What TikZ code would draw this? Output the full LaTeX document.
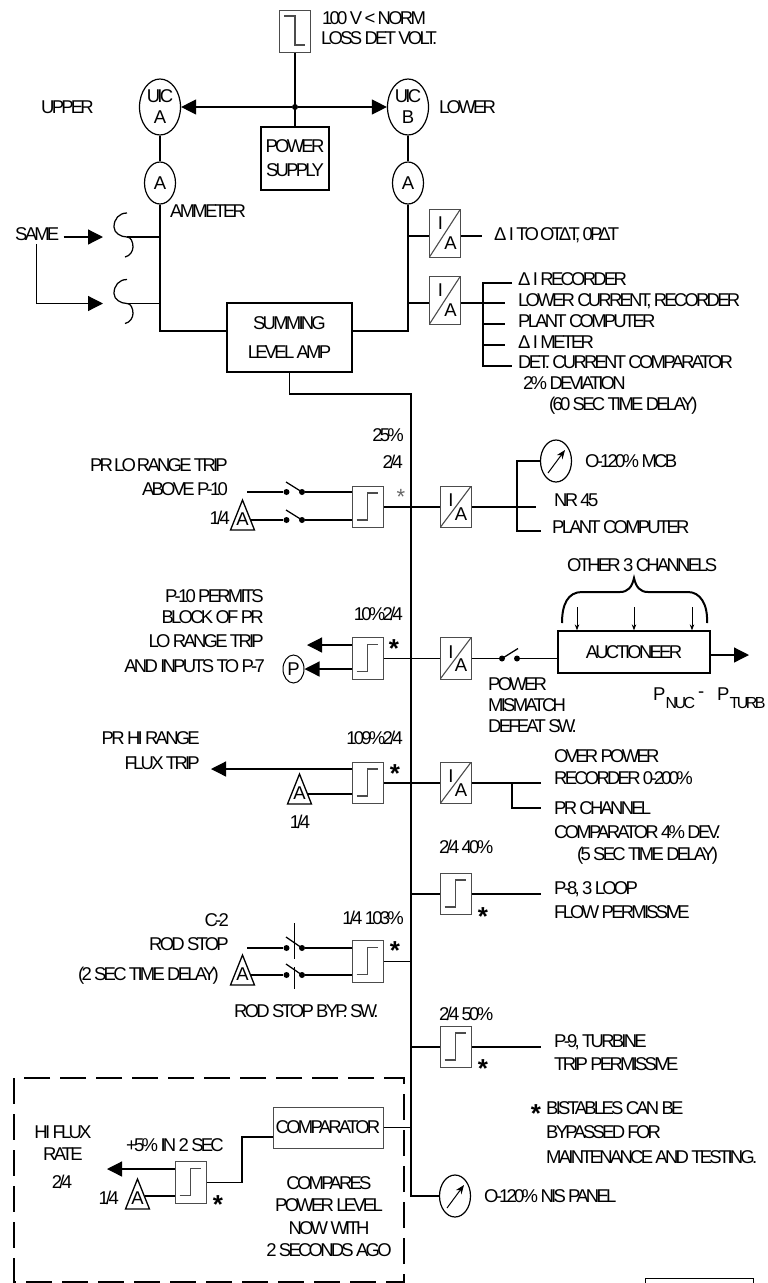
\documentclass[tikz,border=0pt]{standalone}
\usepackage{fontspec}
\setmainfont[LetterSpace=-15]{Liberation Sans}
\usetikzlibrary{arrows.meta,calc,shapes.geometric}

\newcommand{\subtext}[1]{\raisebox{-7.5pt}{\addfontfeature{LetterSpace=-16}\fontsize{16}{16}\selectfont #1}}

\tikzset{
    wire/.style={line width=1.25pt},
    bigarrow/.style={wire, -{Triangle[length=15pt,width=15pt]}},
    smallarrow/.style={line width=1pt, -{Stealth[length=6pt,width=4.5pt]}},
    lbl/.style={inner sep=0, anchor=west, text height=13.3pt, text depth=0pt},
    lblr/.style={lbl, anchor=east},
    lblc/.style={lbl, anchor=center},
    starmark/.style={inner sep=0, font=\fontsize{26}{26}\selectfont\bfseries},
    blockbox/.style={draw, line width=1.3pt, inner sep=0, align=center},
    thinbox/.style={draw=black!70, line width=1pt, inner sep=0},
    stepbox/.style={thinbox, minimum width=31pt, minimum height=41.5pt,
        path picture={\draw[line width=1.1pt] ($(path picture bounding box.center)+(-11,13)$)
            -- ++(11,0) -- ++(0,-27) -- ++(10,0);}},
    stepinv/.style={thinbox, minimum width=31pt, minimum height=41.5pt,
        path picture={\draw[line width=1.1pt] ($(path picture bounding box.center)+(-11,-15)$)
            -- ++(11,0) -- ++(0,29) -- ++(10,0);}},
    iabox/.style={thinbox, minimum width=31pt, minimum height=41.5pt,
        path picture={\draw[line width=1.1pt] (path picture bounding box.south west)
                -- (path picture bounding box.north east);
            \node[inner sep=0] at ($(path picture bounding box.north west)+(11,14)$) {I};
            \node[inner sep=0] at ($(path picture bounding box.south east)+(-10,-14)$) {A};}},
    dial/.style={draw, ellipse, line width=1.2pt, inner sep=0, minimum width=31pt, minimum height=42pt},
    meter/.style={dial, path picture={\draw[smallarrow, -{Stealth[length=9pt,width=7pt]}]
        ($(path picture bounding box.center)+(-8,12)$) -- ++(17,-23);}},
    contact/.style={circle, fill, inner sep=0, minimum size=6pt},
    amptri/.pic={\draw[line width=1.3pt] (0,-20) -- (12,10) -- (-12,10) -- cycle;
        \node[inner sep=0] (-letter) at (0,-1) {A};},
    fuse/.pic={\draw[wire] (0,-24) .. controls (-8,-24) and (-13,-18) .. (-13,-10)
        .. controls (-13,-4) and (-6,0) .. (0,0) .. controls (4,0) and (6,5) .. (6,10)
        .. controls (6,14) and (3,19) .. (-2,20);}
}

\begin{document}
\begin{tikzpicture}[x=1pt, y=-1pt, font=\fontsize{18.5}{21}\selectfont]
    \useasboundingbox (0,0) rectangle (768,1283);

    % supply and the two UIC
    \node[stepinv, minimum height=42pt] (lossDet) at (295,31) {};
    \node[lbl] (lossA) at (322,18) {100 V < NORM};
    \node[lbl] (lossB) at (321,38) {LOSS DET VOLT.};
    \node[blockbox, minimum width=68pt, minimum height=63pt] (supply) at (295,158.5) {POWER\\[3pt]SUPPLY};
    \node[contact] (supplyDot) at (295,107) {};
    \node[dial, minimum width=41pt, minimum height=56pt, align=center] (uicA) at (160,107) {UIC\\A};
    \node[dial, minimum width=41pt, minimum height=56pt, align=center] (uicB) at (408,107) {UIC\\B};
    \node[dial] (ammA) at (160,183) {A};
    \node[dial] (ammB) at (408,183) {A};
    \node[lbl] (upper) at (41,107) {UPPER};
    \node[lbl] (lower) at (439,107) {LOWER};
    \node[lbl] (ammeter) at (170,211) {AMMETER};
    \draw[wire] (lossDet) -- (supply);
    \draw[bigarrow] (supplyDot) -- (uicA);
    \draw[bigarrow] (supplyDot) -- (uicB);
    \draw[wire] (uicA) -- (ammA);
    \draw[wire] (uicB) -- (ammB);

    % summing amplifier
    \node[blockbox, minimum width=125pt, minimum height=69pt] (sumAmp) at (289.5,337.5) {SUMMING\\[8pt]LEVEL AMP};
    \draw[wire] (ammA.south) |- ([yshift=6.5pt]sumAmp.west);
    \draw[wire] (ammB.south) |- ([yshift=6.5pt]sumAmp.east);
    \coordinate (busTop) at (411,394);
    \coordinate (busBot) at (411,1196);
    \node[meter] (meterNis) at (455,1196) {};
    \node[lbl] (nisText) at (484,1196) {O-120\% NIS PANEL};
    \draw[wire] (sumAmp.south) |- (busTop) -- (busBot) -- (meterNis);

    % fuses and SAME
    \node[lbl] (same) at (15,234) {SAME};
    \coordinate (fuseA) at (127,237);
    \coordinate (fuseB) at (127,303.5);
    \coordinate (tipA) at (103,237);
    \coordinate (tipB) at (103,303.5);
    \pic at (fuseA) {fuse};
    \pic at (fuseB) {fuse};
    \draw[wire] (fuseA) -- (fuseA -| ammA);
    \draw[wire] (fuseB) -- (fuseB -| ammA);
    \draw[bigarrow] ([xshift=4pt]tipA -| same.east) -- (tipA);
    \draw[bigarrow] ([yshift=-3pt,xshift=-1pt]same.south) |- (tipB);

    % the two I/A on the right rail
    \node[iabox, minimum height=48pt] (iaDelta) at (445,233) {};
    \node[iabox, minimum height=48pt] (iaRec) at (445,300) {};
    \coordinate (deltaEnd) at (482,236);
    \coordinate (recFork) at (483,303);
    \draw[wire] (deltaEnd -| ammB) -- (iaDelta.west |- deltaEnd);
    \draw[wire] (iaDelta.east |- deltaEnd) -- (deltaEnd);
    \draw[wire] (recFork -| ammB) -- (iaRec.west |- recFork);
    \draw[wire] (iaRec.east |- recFork) -- (recFork);
    \node[lbl] (deltaText) at (494,234) {Δ I TO\kern1pt OT\kern-4ptΔT, 0P\kern-4ptΔT};
    \node[lbl] (recA) at (518,279) {Δ I RECORDER};
    \node[lbl] (recB) at (518,300) {LOWER CURRENT, RECORDER};
    \node[lbl] (recC) at (518,321) {PLANT COMPUTER};
    \node[lbl] (recD) at (518,342) {Δ I METER};
    \node[lbl] (recE) at (518,362) {DET. CURRENT COMPARATOR};
    \node[lbl] (recF) at (523,383) {2\% DEVIATION};
    \node[lbl] (recG) at (549,404) {(60 SEC TIME DELAY)};
    \draw[wire] (512,283) -- (483,283) -- (483,366) -- (512,366);
    \foreach \recY in {303,324,345} {
        \draw[wire] (483,\recY) -- (505,\recY);
    }

    % 25 % row
    \node[stepbox] (stepLo) at (367.5,507) {};
    \node[iabox] (iaLo) at (455.5,507) {};
    \node[lblr] (loPct) at (404,435) {25\%};
    \node[lblr] (loVote) at (403,462) {2/4};
    \node[inner sep=0, text=black!60, font=\fontsize{22}{22}\selectfont] (loStar) at (401,497) {*};
    \node[lblr] (loA) at (228,465) {PR\kern1pt LO\kern1pt RANGE TRIP};
    \node[lblr] (loB) at (228,489) {ABOVE P-10};
    \node[lblr] (loVoteB) at (230,518) {1/4};
    \pic (triLo) at (242.5,520) {amptri};
    \coordinate (loStart) at (247,492);
    \coordinate (triLoOut) at (251,520);
    \node[contact] (swLoA) at (286.5,492) {};
    \node[contact] (swLoB) at (302,492) {};
    \node[contact] (swLoC) at (286.5,520) {};
    \node[contact] (swLoD) at (302,520) {};
    \draw[wire] (loStart) -- (swLoA);
    \draw[wire] (triLoOut) -- (swLoC);
    \draw[wire] (swLoB) -- (stepLo.west |- swLoB);
    \draw[wire] (swLoD) -- (stepLo.west |- swLoD);
    \draw[wire] (swLoB.center) -- ++(-16,-10);
    \draw[wire] (swLoD.center) -- ++(-16,-10);
    \draw[wire] (stepLo) -- (iaLo);
    \node[meter] (meterMcb) at (556,461) {};
    \node[lbl] (mcbText) at (585,461) {O-120\% MCB};
    \node[lbl] (nrText) at (554,500) {NR 45};
    \node[lbl] (plantText) at (552,527) {PLANT COMPUTER};
    \coordinate (loFork) at (517,507);
    \coordinate (loEnd) at (536,507);
    \coordinate (loLow) at (541,531);
    \draw[wire] (iaLo) -- (loEnd);
    \draw[wire] (meterMcb) -| (loFork) |- (loLow);

    % 10 % row
    \node[stepbox] (stepPten) at (367.5,658.5) {};
    \node[iabox] (iaPten) at (455.5,658.5) {};
    \node[lblr] (ptenPct) at (403,614) {10\%2/4};
    \node[starmark] (ptenStar) at (394,649) {*};
    \node[lblr] (ptenA) at (264,596) {P-10 PERMITS};
    \node[lblr] (ptenB) at (264,617) {BLOCK OF PR};
    \node[lblr] (ptenC) at (264,641) {LO RANGE TRIP};
    \node[lblr] (ptenD) at (265,666) {AND INPUTS TO P-7};
    \node[dial, minimum width=21pt, minimum height=28pt, line width=1pt] (permit) at (293.5,669) {P};
    \coordinate (ptenTip) at (307,645);
    \draw[bigarrow] (stepPten.west |- ptenTip) -- (ptenTip);
    \draw[bigarrow] (stepPten.west |- permit) -- (permit);
    \draw[wire] (stepPten) -- (iaPten);
    \node[contact] (swPmA) at (502,658.5) {};
    \node[contact] (swPmB) at (517,658.5) {};
    \node[blockbox, minimum width=152pt, minimum height=42pt] (auction) at (634,652) {AUCTIONEER};
    \draw[wire] (iaPten) -- (swPmA);
    \draw[wire] (swPmB) -- (swPmB -| auction.west);
    \draw[wire] (swPmA.center) -- ++(16,-10);
    \node[lbl] (pmA) at (488,684) {POWER};
    \node[lbl] (pmB) at (488,705) {MISMATCH};
    \node[lbl] (pmC) at (488,726) {DEFEAT SW.};
    \coordinate (auctionTip) at (749,655);
    \draw[bigarrow] (auction.east |- auctionTip) -- (auctionTip);
    \node[lbl] (pNuc) at (653,694) {P\subtext{NUC}\,\raisebox{3pt}{-}};
    \node[lbl] (pTurb) at (717,694) {P\subtext{TURB}};
    \node[lbl] (otherText) at (567,565) {OTHER 3 CHANNELS};
    \foreach \chX/\chName in {577/chA,634/chB,692/chC} {
        \coordinate (\chName) at (\chX,607);
        \draw[smallarrow] (\chName) -- (\chName |- auction.north);
    }
    \draw[line width=2pt] (562,623) .. controls (562,604) and (568,592) .. (582,592) -- (620,592)
        .. controls (628,592) and (632,587) .. (634,578) .. controls (636,587) and (640,592) .. (648,592)
        -- (688,592) .. controls (700,592) and (708,604) .. (707,623);

    % 109 % row
    \node[stepbox] (stepHi) at (367.5,783) {};
    \node[iabox] (iaHi) at (455.5,783) {};
    \node[lblr] (hiPct) at (403,738) {109\%2/4};
    \node[starmark] (hiStar) at (395,774) {*};
    \node[lblr] (hiA) at (200,738) {PR HI RANGE};
    \node[lblr] (hiB) at (200,763) {FLUX TRIP};
    \node[lblc] (hiVote) at (300,822) {1/4};
    \pic (triHi) at (299.5,794) {amptri};
    \coordinate (hiTip) at (211,769);
    \coordinate (triHiOut) at (308,794);
    \draw[bigarrow] (stepHi.west |- hiTip) -- (hiTip);
    \draw[wire] (triHiOut) -- (stepHi.west |- triHiOut);
    \draw[wire] (stepHi) -- (iaHi);
    \coordinate (hiEnd) at (541,783);
    \coordinate (hiLow) at (541,808);
    \draw[wire] (iaHi) -- (hiEnd);
    \draw[wire] (512,783) |- (hiLow);
    \node[lbl] (overA) at (554,756) {OVER POWER};
    \node[lbl] (overB) at (554,778) {RECORDER 0-200\%};
    \node[lbl] (overC) at (554,808) {PR CHANNEL};
    \node[lbl] (overD) at (554,832) {COMPARATOR 4\% DEV.};
    \node[lbl] (overE) at (577,854) {(5 SEC TIME DELAY)};

    % 40 % row
    \node[stepbox] (stepFlow) at (455.5,894) {};
    \node[lbl] (flowPct) at (439,847) {2/4 40\%};
    \node[starmark] (flowStar) at (483,917) {*};
    \node[lbl] (flowA) at (554,888) {P-8, 3 LOOP};
    \node[lbl] (flowB) at (554,912) {FLOW PERMISSIVE};
    \coordinate (flowEnd) at (541,894);
    \draw[wire] (stepFlow.west -| busTop) -- (stepFlow);
    \draw[wire] (stepFlow) -- (flowEnd);

    % 103 % row
    \node[stepbox] (stepRod) at (367.5,961.5) {};
    \node[lblr] (rodPct) at (404,918) {1/4 103\%};
    \node[starmark] (rodStar) at (395,951) {*};
    \node[lblr] (rodA) at (229,920) {C-2};
    \node[lblr] (rodB) at (229,944) {ROD STOP};
    \node[lblr] (rodC) at (219,974) {(2 SEC TIME DELAY)};
    \node[lbl] (rodD) at (234,1011) {ROD STOP BYP. SW.};
    \pic (triRod) at (242.5,975) {amptri};
    \coordinate (rodStart) at (247,948);
    \coordinate (triRodOut) at (251,975);
    \node[contact] (swRodA) at (286.5,948) {};
    \node[contact] (swRodB) at (302,948) {};
    \node[contact] (swRodC) at (286.5,975) {};
    \node[contact] (swRodD) at (302,975) {};
    \draw[wire] (rodStart) -- (swRodA);
    \draw[wire] (triRodOut) -- (swRodC);
    \draw[wire] (swRodB) -- (stepRod.west |- swRodB);
    \draw[wire] (swRodD) -- (stepRod.west |- swRodD);
    \draw[wire] (swRodB.center) -- ++(-16,-11);
    \draw[wire] (swRodD.center) -- ++(-16,-11);
    \draw[line width=1pt] (294,923) -- (294,959);
    \draw[line width=1pt] (294,967) -- (294,989);
    \draw[wire] (stepRod) -- (stepRod.east -| busTop);

    % 50 % row
    \node[stepbox] (stepTurb) at (455.5,1047) {};
    \node[lbl] (turbPct) at (439,1014) {2/4 50\%};
    \node[starmark] (turbStar) at (483,1069) {*};
    \node[lbl] (turbA) at (554,1041) {P-9, TURBINE};
    \node[lbl] (turbB) at (554,1064) {TRIP PERMISSIVE};
    \coordinate (turbEnd) at (541,1047);
    \draw[wire] (stepTurb.west -| busTop) -- (stepTurb);
    \draw[wire] (stepTurb) -- (turbEnd);

    % bypass note
    \node[starmark] (noteStar) at (536,1114) {*};
    \node[lbl] (noteA) at (546,1108) {BISTABLES CAN BE};
    \node[lbl] (noteB) at (546,1132) {BYPASSED FOR};
    \node[lbl] (noteC) at (546,1157) {MAINTENANCE AND TESTING.};

    % hi flux rate, dashed group
    \draw[line width=1.2pt, dash pattern=on 26pt off 10pt] (14,1078) rectangle (404,1282);
    \node[thinbox, minimum width=110pt, minimum height=41pt] (comparator) at (328,1127.5) {COMPARATOR};
    \node[stepbox] (stepRate) at (190.5,1182.5) {};
    \draw[wire] (comparator) -- (comparator.east -| busTop);
    \coordinate (rateBend) at (242,1137);
    \draw[wire] (comparator.west |- rateBend) -- (rateBend) |- (stepRate.east);
    \coordinate (rateTip) at (107,1169);
    \draw[bigarrow] (stepRate.west |- rateTip) -- (rateTip);
    \pic (triRate) at (137.5,1199) {amptri};
    \coordinate (triRateOut) at (145,1196);
    \draw[wire] (triRateOut) -- (stepRate.west |- triRateOut);
    \node[lblr] (rateVote) at (119,1198) {1/4};
    \node[starmark] (rateStar) at (218,1205) {*};
    \node[lblc] (rateA) at (63,1132) {HI FLUX};
    \node[lblc] (rateB) at (63,1154) {RATE};
    \node[lblc] (rateC) at (62,1182) {2/4};
    \node[lbl] (rateD) at (126,1145) {+5\% IN 2 SEC};
    \node[lblc] (cmpA) at (329,1183) {COMPARES};
    \node[lblc] (cmpB) at (329,1205) {POWER LEVEL};
    \node[lblc] (cmpC) at (329,1228) {NOW WITH};
    \node[lblc] (cmpD) at (329,1250) {2 SECONDS AGO};

    % cut off box at the page foot
    \draw[line width=1pt] (645,1283) -- (645,1278) -- (753,1278) -- (753,1283);
\end{tikzpicture}
\end{document}
